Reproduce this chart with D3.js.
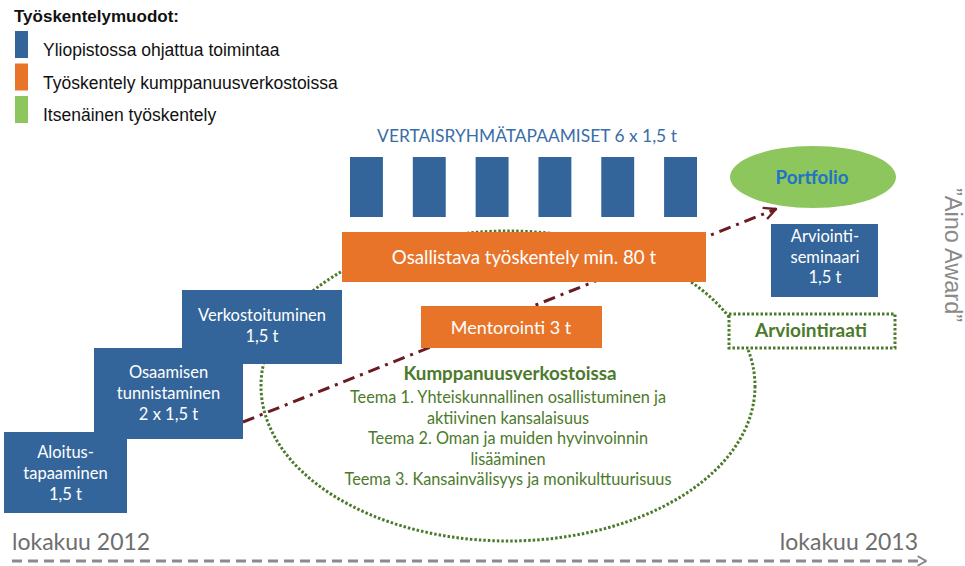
<!DOCTYPE html>
<html>
<head>
<meta charset="utf-8">
<script src="https://cdn.jsdelivr.net/npm/d3@7"></script>
<style>
  body { margin: 0; background: #fff; }
</style>
</head>
<body>
<script>
// --- data ---
var legendTitle = "Työskentelymuodot:";
var legendItems = ["Yliopistossa ohjattua toimintaa", "Työskentely kumppanuusverkostoissa", "Itsenäinen työskentely"];
var stepLabels = [
    ["Aloitus-", "tapaaminen", "1,5 t"],
    ["Osaamisen", "tunnistaminen", "2 x 1,5 t"],
    ["Verkostoituminen", "1,5 t"]
];
var peerTitle = "VERTAISRYHMÄTAPAAMISET 6 x 1,5 t";
var peerSessions = [1, 2, 3, 4, 5, 6];
var mainWorkLabel = "Osallistava työskentely min. 80 t";
var mentoringLabel = "Mentorointi 3 t";
var networkTitle = "Kumppanuusverkostoissa";
var themeLines = [
    "Teema 1. Yhteiskunnallinen osallistuminen ja",
    "aktiivinen kansalaisuus",
    "Teema 2. Oman ja muiden hyvinvoinnin",
    "lisääminen",
    "Teema 3. Kansainvälisyys ja monikulttuurisuus"
];
var portfolioLabel = "Portfolio";
var seminarLabels = ["Arviointi-", "seminaari", "1,5 t"];
var juryLabel = "Arviointiraati";
var awardLabel = "”Aino Award”";
var timelineDates = [new Date(2012, 9, 1), new Date(2013, 9, 1)];
var timelineLabels = ["lokakuu 2012", "lokakuu 2013"];

var canvasWidth = 965;
var canvasHeight = 566;

var blue = "#34659a";
var orange = "#e8742a";
var lightGreen = "#8cc65c";
var darkGreen = "#4c7a2b";
var arrowRed = "#6b1c20";
var calibri = "Lato, 'Open Sans', sans-serif";
var arial = "'Liberation Sans', Arial, sans-serif";

var svg = d3.select("body").append("svg")
    .attr("width", canvasWidth)
    .attr("height", canvasHeight)
    .style("display", "block");

var defs = svg.append("defs");
defs.append("marker")
    .attr("id", "headRed")
    .attr("viewBox", "0 0 10 10")
    .attr("refX", 9).attr("refY", 5)
    .attr("markerWidth", 5).attr("markerHeight", 5)
    .attr("markerUnits", "strokeWidth")
    .attr("orient", "auto")
    .append("path")
    .attr("d", "M1,1 L9,5 L1,9")
    .attr("fill", "none")
    .attr("stroke", arrowRed)
    .attr("stroke-width", 1.6);
defs.append("marker")
    .attr("id", "headGray")
    .attr("viewBox", "0 0 10 10")
    .attr("refX", 9).attr("refY", 5)
    .attr("markerWidth", 4).attr("markerHeight", 4)
    .attr("markerUnits", "strokeWidth")
    .attr("orient", "auto")
    .append("path")
    .attr("d", "M2,1 L9,5 L2,9")
    .attr("fill", "none")
    .attr("stroke", "#8a8a8a")
    .attr("stroke-width", 1.6);

// helper: centred multi-line text
function lines(g, arr, cx, y0, lh, opts) {
    var t = g.append("text")
        .attr("text-anchor", "middle")
        .attr("font-family", opts.family || calibri)
        .attr("font-size", opts.size)
        .attr("font-weight", opts.weight || "normal")
        .attr("fill", opts.fill);
    arr.forEach(function(s, i) {
        t.append("tspan").attr("x", cx).attr("y", y0 + i * lh).text(s);
    });
    return t;
}

// Legend
svg.append("text")
    .attr("x", 14).attr("y", 22)
    .attr("font-family", arial)
    .attr("font-size", "17px")
    .attr("font-weight", "bold")
    .attr("fill", "#111")
    .text(legendTitle);

var legendColors = [blue, orange, lightGreen];
var legendY = d3.scalePoint().domain(legendItems).range([45, 110]);
legendItems.forEach(function(d, i) {
    svg.append("rect")
        .attr("x", 15).attr("y", legendY(d) - 14)
        .attr("width", 13).attr("height", 27)
        .attr("fill", legendColors[i]);
    svg.append("text")
        .attr("x", 43).attr("y", legendY(d) + 11)
        .attr("font-family", arial)
        .attr("font-size", "17.5px")
        .attr("fill", "#111")
        .text(d);
});

// Dotted ellipse (behind everything)
svg.append("ellipse")
    .attr("cx", 508).attr("cy", 386)
    .attr("rx", 247).attr("ry", 155)
    .attr("fill", "none")
    .attr("stroke", darkGreen)
    .attr("stroke-width", 3)
    .attr("stroke-dasharray", "2.5,2");

// Dash-dot arrow to Portfolio
svg.append("line")
    .attr("x1", 243).attr("y1", 422)
    .attr("x2", 776).attr("y2", 209)
    .attr("stroke", arrowRed)
    .attr("stroke-width", 3)
    .attr("stroke-dasharray", "12,6,3,6")
    .attr("marker-end", "url(#headRed)");

// Staircase of blue boxes
var stepBoxes = [
    { x: 4, y: 432, w: 123, h: 81, ty: 458 },
    { x: 94, y: 348, w: 149, h: 91, ty: 378 },
    { x: 182, y: 290, w: 160, h: 74, ty: 321 }
];
// draw top-most step first so lower steps sit on top of it
[2, 1, 0].forEach(function(i) {
    var b = stepBoxes[i];
    svg.append("rect")
        .attr("x", b.x).attr("y", b.y)
        .attr("width", b.w).attr("height", b.h)
        .attr("fill", blue);
});
stepBoxes.forEach(function(b, i) {
    lines(svg, stepLabels[i], b.x + b.w / 2, b.ty, 21, { size: "16.5px", fill: "#fff" });
});

// Peer group meetings
svg.append("text")
    .attr("x", 527).attr("y", 142)
    .attr("text-anchor", "middle")
    .attr("font-family", calibri)
    .attr("font-size", "17.4px")
    .attr("fill", "#3a6ea8")
    .text(peerTitle);

var peerX = d3.scaleBand()
    .domain(peerSessions)
    .range([350, 697])
    .paddingInner(0.476)
    .paddingOuter(0);

svg.selectAll("rect.peer").data(peerSessions)
    .enter().append("rect")
    .attr("class", "peer")
    .attr("x", d => peerX(d))
    .attr("y", 157)
    .attr("width", peerX.bandwidth())
    .attr("height", 60)
    .attr("fill", blue);

// Orange boxes
svg.append("rect")
    .attr("x", 342).attr("y", 232)
    .attr("width", 364).attr("height", 50)
    .attr("fill", orange);
svg.append("text")
    .attr("x", 524).attr("y", 264)
    .attr("text-anchor", "middle")
    .attr("font-family", calibri)
    .attr("font-size", "18.7px")
    .attr("fill", "#fff")
    .text(mainWorkLabel);

svg.append("rect")
    .attr("x", 421).attr("y", 306)
    .attr("width", 181).attr("height", 42)
    .attr("fill", orange);
svg.append("text")
    .attr("x", 511).attr("y", 334)
    .attr("text-anchor", "middle")
    .attr("font-family", calibri)
    .attr("font-size", "18px")
    .attr("fill", "#fff")
    .text(mentoringLabel);

// Partnership themes
lines(svg, [networkTitle], 510, 380, 0, { size: "18.8px", weight: "bold", fill: darkGreen });
lines(svg, themeLines, 508, 403, 20.5, { size: "16.3px", fill: darkGreen });

// Portfolio
svg.append("ellipse")
    .attr("cx", 813).attr("cy", 177)
    .attr("rx", 83).attr("ry", 31)
    .attr("fill", lightGreen);
svg.append("text")
    .attr("x", 812).attr("y", 184)
    .attr("text-anchor", "middle")
    .attr("font-family", calibri)
    .attr("font-size", "18.8px")
    .attr("font-weight", "bold")
    .attr("fill", "#1f74c4")
    .text(portfolioLabel);

// Evaluation seminar
svg.append("rect")
    .attr("x", 771).attr("y", 224)
    .attr("width", 107).attr("height", 73)
    .attr("fill", blue);
lines(svg, seminarLabels, 825, 242, 20.5, { size: "16.5px", fill: "#fff" });

// Jury
svg.append("rect")
    .attr("x", 729).attr("y", 314)
    .attr("width", 166).attr("height", 34)
    .attr("fill", "#fff")
    .attr("stroke", darkGreen)
    .attr("stroke-width", 3)
    .attr("stroke-dasharray", "2.5,2");
svg.append("text")
    .attr("x", 811).attr("y", 337)
    .attr("text-anchor", "middle")
    .attr("font-family", calibri)
    .attr("font-size", "19px")
    .attr("font-weight", "bold")
    .attr("fill", darkGreen)
    .text(juryLabel);

// Award (vertical)
svg.append("text")
    .attr("transform", "translate(945,255) rotate(90)")
    .attr("text-anchor", "middle")
    .attr("font-family", arial)
    .attr("font-size", "23.5px")
    .attr("fill", "#8a8a8a")
    .text(awardLabel);

// Timeline
var timeX = d3.scaleTime().domain(timelineDates).range([12, 926]);
svg.append("line")
    .attr("x1", timeX(timelineDates[0])).attr("y1", 561)
    .attr("x2", timeX(timelineDates[1])).attr("y2", 561)
    .attr("stroke", "#8a8a8a")
    .attr("stroke-width", 3)
    .attr("stroke-dasharray", "10,6")
    .attr("marker-end", "url(#headGray)");

svg.selectAll("text.time").data(timelineLabels)
    .enter().append("text")
    .attr("class", "time")
    .attr("x", (d, i) => i === 0 ? timeX(timelineDates[0]) : timeX(timelineDates[1]) - 8)
    .attr("y", 550)
    .attr("text-anchor", (d, i) => i === 0 ? "start" : "end")
    .attr("font-family", calibri)
    .attr("font-size", "23px")
    .attr("fill", "#6e6e6e")
    .text(d => d);
</script>
</body>
</html>
